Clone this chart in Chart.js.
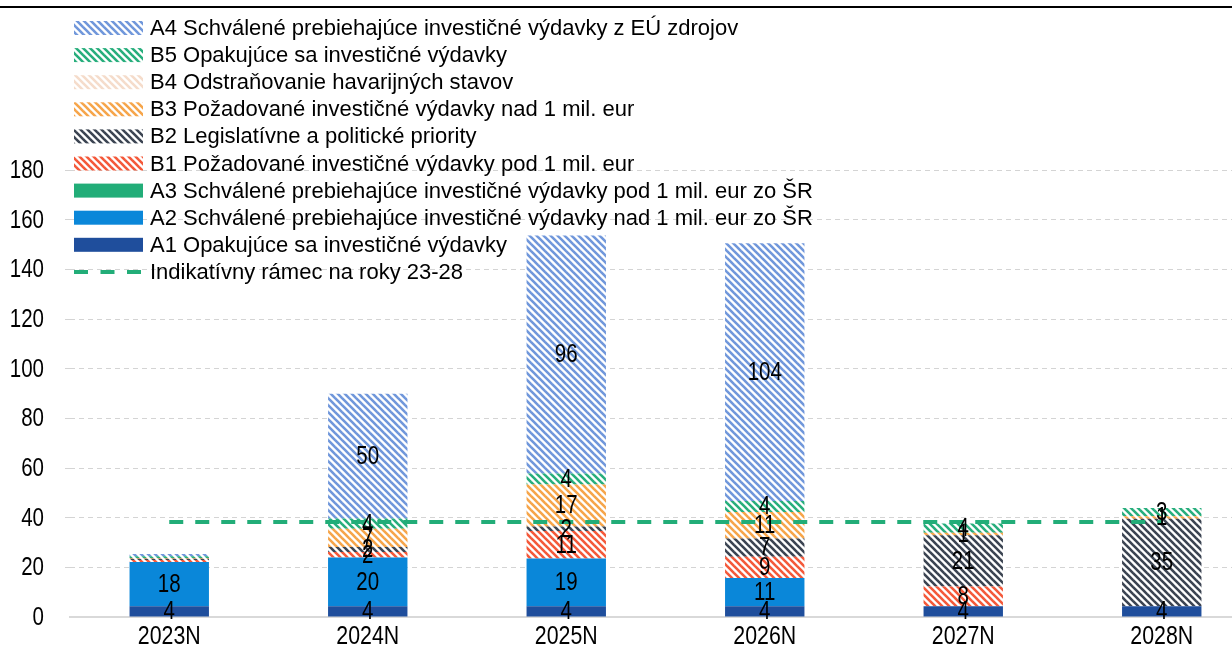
<!DOCTYPE html>
<html><head><meta charset="utf-8">
<script src="https://cdn.jsdelivr.net/npm/chart.js@4.4.1/dist/chart.umd.min.js"></script>
<style>
html,body{margin:0;padding:0;background:#fff;overflow:hidden;width:1232px;height:662px;}
#wrap{position:absolute;left:0;top:0;width:1265px;height:662px;}
#rule{position:absolute;left:0;top:6px;width:1232px;height:2px;background:#000;}
</style></head><body>
<div id="wrap"><canvas id="c" width="1265" height="662"></canvas></div>
<div id="rule"></div>
<script>
// ---- data ----
const categories = ['2023N','2024N','2025N','2026N','2027N','2028N'];
const A1 = [4.3, 4.3, 4.3, 4.3, 4.3, 4.3];
const A2 = [17.8, 19.7, 19.3, 11.4, 0, 0];
const A3 = [0, 0, 0, 0, 0, 0];
const B1 = [0.9, 2.2, 11.0, 8.6, 8.0, 0];
const B2 = [0.5, 2.0, 1.8, 7.3, 20.6, 35.3];
const B3 = [0.3, 7.3, 17.0, 10.7, 1.0, 1.0];
const B4 = [0, 0, 0, 0, 0, 0];
const B5 = [0.7, 4.2, 4.4, 4.4, 3.8, 3.3];
const A4 = [0.9, 50.2, 95.8, 103.8, 0, 0];
const frame = [38.3, 38.3, 38.3, 38.3, 38.3, 38.3];
const yTicks = [0, 20, 40, 60, 80, 100, 120, 140, 160, 180];

const labelsText = {
  A1: 'A1 Opakujúce sa investičné výdavky',
  A2: 'A2 Schválené prebiehajúce investičné výdavky nad 1 mil. eur zo ŠR',
  A3: 'A3 Schválené prebiehajúce investičné výdavky pod 1 mil. eur zo ŠR',
  B1: 'B1 Požadované investičné výdavky pod 1 mil. eur',
  B2: 'B2 Legislatívne a politické priority',
  B3: 'B3 Požadované investičné výdavky nad 1 mil. eur',
  B4: 'B4 Odstraňovanie havarijných stavov',
  B5: 'B5 Opakujúce sa investičné výdavky',
  A4: 'A4 Schválené prebiehajúce investičné výdavky z EÚ zdrojov',
  L:  'Indikatívny rámec na roky 23-28'
};

const REG = '"Liberation Sans", Arial, sans-serif';
const NARROW_X = 0.82; // horizontal squeeze emulating a narrow face

function narrowText(ctx, text, x, y, size, align){
  ctx.save();
  ctx.font = size + 'px ' + REG;
  ctx.textAlign = align; ctx.textBaseline = 'middle'; ctx.fillStyle = '#000';
  ctx.translate(x, y); ctx.scale(NARROW_X, 1);
  ctx.fillText(text, 0, 0);
  ctx.restore();
}

function hatch(color){
  const s = 7;
  const c = document.createElement('canvas');
  c.width = s; c.height = s;
  const g = c.getContext('2d');
  g.fillStyle = '#fff'; g.fillRect(0,0,s,s);
  g.strokeStyle = color; g.lineWidth = 2.6;
  for (const k of [-1,0,1]) {
    g.beginPath(); g.moveTo(-1, -1 + k*s); g.lineTo(s+1, s+1 + k*s); g.stroke();
  }
  return g.createPattern(c, 'repeat');
}

const col = {
  A1:'#1f4e9c', A2:'#0a87d9', A3:'#22ad78',
  B1:hatch('#f4593a'), B2:hatch('#3b4452'), B3:hatch('#f6a54a'),
  B4:hatch('#f5dccb'), B5:hatch('#27ae7c'), A4:hatch('#7097db'),
  L:'#22ad78'
};

const series = [['A1',A1],['A2',A2],['A3',A3],['B1',B1],['B2',B2],['B3',B3],['B4',B4],['B5',B5],['A4',A4]];
const datasets = series.map(([k,d]) => ({
  key:k, label: labelsText[k], data: d, backgroundColor: col[k], borderWidth: 0, order: 1, stack: 'main'
}));
datasets.push({
  type:'line', key:'L', label: labelsText.L, data: frame, borderColor: col.L, borderWidth: 4,
  borderDash: [14,12], borderCapStyle:'butt', pointRadius: 0, fill: false, stack: 'frame', order: 0
});

const valueLabels = {
  id:'valueLabels',
  afterDatasetsDraw(chart){
    const ctx = chart.ctx;
    chart.data.datasets.forEach((ds,i) => {
      if (ds.type === 'line') return;
      const meta = chart.getDatasetMeta(i);
      meta.data.forEach((bar,j) => {
        const v = ds.data[j];
        if (v < 1) return;
        const p = bar.getProps(['x','y','base'], true);
        narrowText(ctx, String(Math.round(v)), p.x, (p.y + p.base)/2 + 1, 25, 'center');
      });
    });
  }
};

const axisLabels = {
  id:'axisLabels',
  afterDraw(chart){
    const ctx = chart.ctx;
    const ys = chart.scales.y, xs = chart.scales.x;
    ys.ticks.forEach(t => {
      narrowText(ctx, String(t.value), ys.right - 5 - 21, ys.getPixelForValue(t.value) + 1, 25, 'right');
    });
    categories.forEach((c,i) => {
      narrowText(ctx, c, xs.getPixelForValue(i), xs.top + 20, 26, 'center');
    });
  }
};

const legendOrder = ['A4','B5','B4','B3','B2','B1','A3','A2','A1','L'];
const customLegend = {
  id:'customLegend',
  afterDraw(chart){
    const ctx = chart.ctx;
    ctx.save();
    ctx.font = '22px ' + REG;
    ctx.textBaseline = 'middle'; ctx.textAlign = 'left';
    legendOrder.forEach((k,i) => {
      const cy = 28 + i*27.1;
      if (k === 'L') {
        ctx.strokeStyle = col.L; ctx.lineWidth = 4; ctx.setLineDash([14,12.5]);
        ctx.beginPath(); ctx.moveTo(74, cy); ctx.lineTo(144, cy); ctx.stroke();
        ctx.setLineDash([]);
      } else {
        ctx.fillStyle = col[k];
        ctx.fillRect(74, cy - 7, 69, 14);
      }
      ctx.fillStyle = '#000';
      ctx.fillText(labelsText[k], 150, cy + 1);
    });
    ctx.restore();
  }
};

new Chart(document.getElementById('c'), {
  type:'bar',
  data:{ labels: categories, datasets },
  options:{
    responsive:false, animation:false, devicePixelRatio:1,
    layout:{ padding:{ top:170, right:4, left:0, bottom:0 } },
    plugins:{ legend:{ display:false }, tooltip:{ enabled:false } },
    datasets:{ bar:{ barPercentage:0.4, categoryPercentage:1 } },
    scales:{
      x:{
        stacked:true,
        grid:{ display:false, drawTicks:false },
        border:{ display:true, color:'#d9d9d9', width:2 },
        ticks:{ display:false },
        afterFit(s){ s.height = 45; }
      },
      y:{
        stacked:true, min:0, max:180,
        afterBuildTicks(s){ s.ticks = yTicks.map(v => ({ value:v })); },
        ticks:{ display:false },
        grid:{ color: c => (c.tick && c.tick.value === 0) ? 'rgba(0,0,0,0)' : '#d4d4d4', lineWidth:1, tickLength:5, drawTicks:true },
        border:{ display:false, dash:[5,4] },
        afterFit(s){ s.width = 70; }
      }
    }
  },
  plugins:[valueLabels, axisLabels, customLegend]
});
</script>
</body></html>
